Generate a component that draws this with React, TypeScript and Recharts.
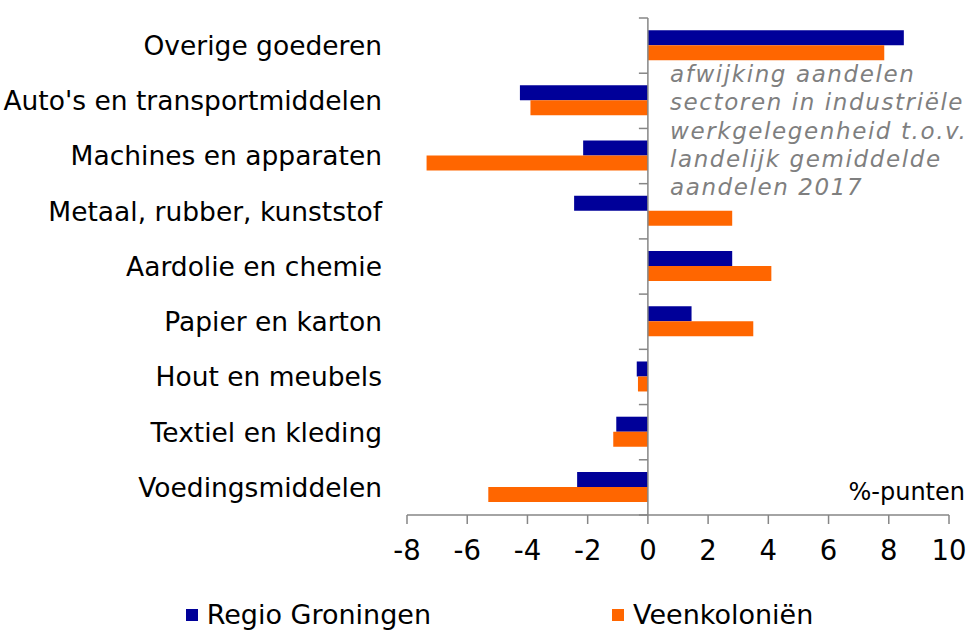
import React from 'react';
import { BarChart, Bar, XAxis, YAxis, ReferenceLine, Legend } from 'recharts';

const categories = [
  'Overige goederen',
  "Auto's en transportmiddelen",
  'Machines en apparaten',
  'Metaal, rubber, kunststof',
  'Aardolie en chemie',
  'Papier en karton',
  'Hout en meubels',
  'Textiel en kleding',
  'Voedingsmiddelen',
];
const regioGroningen = [8.5, -4.25, -2.15, -2.45, 2.8, 1.45, -0.37, -1.05, -2.35];
const veenkolonien = [7.85, -3.9, -7.35, 2.8, 4.1, 3.5, -0.33, -1.15, -5.3];
const xTicks = [-8, -6, -4, -2, 0, 2, 4, 6, 8, 10];

const BLUE = '#000099';
const ORANGE = '#ff6600';
const GREY = '#868686';
const FONT = '"DejaVu Sans", Verdana, sans-serif';

const data = categories.map((name, i) => ({
  name,
  regio: regioGroningen[i],
  veen: veenkolonien[i],
}));

// zero line with small tick marks at the category boundaries
const ZeroLine = (props: any) => {
  const { x1, y1, x2, y2 } = props;
  const n = categories.length;
  const step = (y2 - y1) / n;
  const marks = [];
  for (let i = 0; i <= n; i++) {
    const y = y1 + step * i;
    marks.push(<line key={i} x1={x1 - 9} x2={x1} y1={y} y2={y} stroke={GREY} strokeWidth={1.5} />);
  }
  return (
    <g>
      <line x1={x1} y1={y1} x2={x2} y2={y2} stroke={GREY} strokeWidth={1.5} />
      {marks}
    </g>
  );
};

const LegendContent = () => (
  <div
    style={{
      display: 'flex',
      justifyContent: 'center',
      gap: 181,
      fontFamily: FONT,
      fontSize: 27,
      lineHeight: '31px',
      color: '#000',
      paddingLeft: 50,
    }}
  >
    {[
      { label: 'Regio Groningen', color: BLUE },
      { label: 'Veenkoloniën', color: ORANGE },
    ].map((item) => (
      <div key={item.label} style={{ display: 'flex', alignItems: 'center' }}>
        <span style={{ width: 12, height: 12, background: item.color, marginRight: 9, display: 'inline-block' }} />
        <span>{item.label}</span>
      </div>
    ))}
  </div>
);

export default function App() {
  return (
    <div style={{ position: 'absolute', left: 0, top: 0, width: 976, height: 637, background: '#fff', fontFamily: FONT }}>
      <BarChart
        width={976}
        height={637}
        data={data}
        layout="vertical"
        margin={{ top: 18, right: 27, left: 0, bottom: 7 }}
        barCategoryGap="22%"
        barGap={0}
      >
        <XAxis
          type="number"
          domain={[-8, 10]}
          ticks={xTicks}
          interval={0}
          stroke={GREY}
          strokeWidth={1.5}
          tickSize={9}
          tickMargin={16}
          height={84}
          tick={{ fill: '#000', fontSize: 27.5, fontFamily: FONT }}
        />
        <YAxis
          type="category"
          dataKey="name"
          width={407}
          axisLine={false}
          tickLine={false}
          tickSize={0}
          tickMargin={25}
          interval={0}
          tick={{ fill: '#000', fontSize: 26.5, fontFamily: FONT }}
        />
        <Bar dataKey="regio" name="Regio Groningen" fill={BLUE} isAnimationActive={false} />
        <Bar dataKey="veen" name="Veenkoloniën" fill={ORANGE} isAnimationActive={false} />
        <ReferenceLine x={0} shape={ZeroLine} />
        <Legend verticalAlign="bottom" content={<LegendContent />} />
      </BarChart>
      <div
        style={{
          position: 'absolute',
          left: 670,
          top: 60,
          fontSize: 23,
          letterSpacing: 1.6,
          lineHeight: '28.3px',
          fontStyle: 'italic',
          color: '#7f7f7f',
          whiteSpace: 'pre',
        }}
      >
        {'afwijking aandelen\nsectoren in industriële\nwerkgelegenheid t.o.v.\nlandelijk gemiddelde\naandelen 2017'}
      </div>
      <div style={{ position: 'absolute', right: 11, top: 478, fontSize: 24, color: '#000' }}>%-punten</div>
    </div>
  );
}
